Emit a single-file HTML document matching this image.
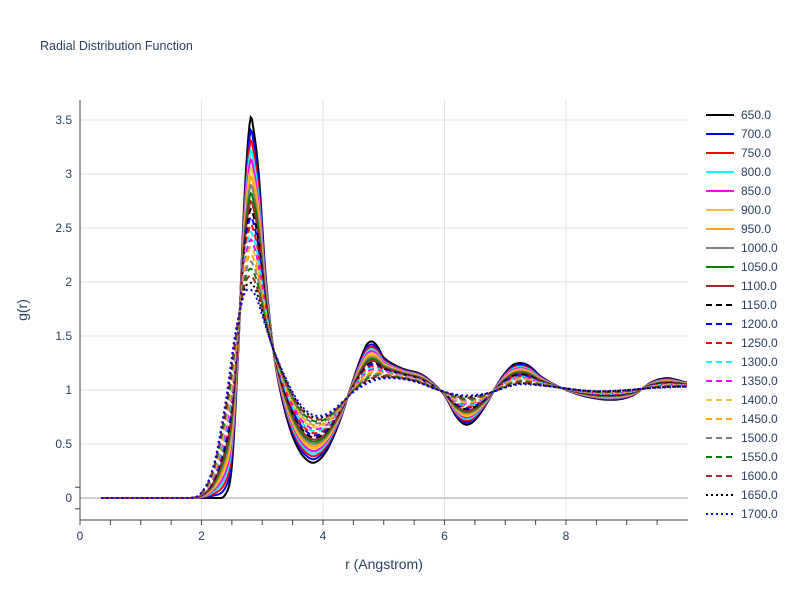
<!DOCTYPE html>
<html><head><meta charset="utf-8"><style>
html,body{margin:0;padding:0;background:#fff;}
svg text{font-family:"Liberation Sans",sans-serif;fill:#2a3f5f;}
</style></head><body>
<svg id="s" width="800" height="600" xmlns="http://www.w3.org/2000/svg">
<rect width="800" height="600" fill="#fff"/>
<g id="grid"></g>
<g id="curves"></g>
<g id="axes"></g>
<g id="legend"></g>
<text x="40" y="50" font-size="12.5">Radial Distribution Function</text>
<text x="384" y="569" font-size="14" text-anchor="middle">r (Angstrom)</text>
<text transform="translate(27,310) rotate(-90)" font-size="14" text-anchor="middle">g(r)</text>
</svg>
<script>
var NS="http://www.w3.org/2000/svg";
function X(r){return 80+r*60.75;}
function Y(g){return 498-g*108;}
function el(p,tag,a){var e=document.createElementNS(NS,tag);for(var k in a)e.setAttribute(k,a[k]);p.appendChild(e);return e;}
var grid=document.getElementById('grid'),axes=document.getElementById('axes'),cv=document.getElementById('curves'),lg=document.getElementById('legend');
[2,4,6,8].forEach(function(v){el(grid,'line',{x1:X(v),x2:X(v),y1:100,y2:520,stroke:'#e2e2e2','stroke-width':1});});
[0.5,1,1.5,2,2.5,3,3.5].forEach(function(v){el(grid,'line',{x1:80,x2:688,y1:Y(v),y2:Y(v),stroke:'#e2e2e2','stroke-width':1});});
el(grid,'line',{x1:80,x2:688,y1:Y(0),y2:Y(0),stroke:'#d0d0d0','stroke-width':2});
el(axes,'line',{x1:80,x2:80,y1:100,y2:520,stroke:'#444','stroke-width':1});
el(axes,'line',{x1:80,x2:688,y1:520,y2:520,stroke:'#444','stroke-width':1});
for(var i=0;i<=19;i++){var x=X(i*0.5);el(axes,'line',{x1:x,x2:x,y1:520,y2:525,stroke:'#444'});}
[-0.1,0.1].forEach(function(v){el(axes,'line',{x1:75,x2:80,y1:Y(v),y2:Y(v),stroke:'#444'});});
[0,0.5,1,1.5,2,2.5,3,3.5].forEach(function(v){var t=el(axes,'text',{x:72,y:Y(v)+4,'font-size':12,'text-anchor':'end'});t.textContent=(v==0?'0':String(v));});
[0,2,4,6,8].forEach(function(v){var t=el(axes,'text',{x:X(v),y:540,'font-size':12,'text-anchor':'middle'});t.textContent=String(v);});
var cold=[[0,0],[2.2,0],[2.4,0.04],[2.5,0.3],[2.6,1.3],[2.7,2.7],[2.8,3.5],[2.87,3.36],[2.95,2.95],[3.05,2.1],[3.2,1.3],[3.4,0.75],[3.6,0.45],[3.8,0.33],[3.95,0.36],[4.1,0.48],[4.3,0.75],[4.5,1.1],[4.7,1.4],[4.8,1.45],[4.9,1.4],[5.0,1.3],[5.3,1.2],[5.6,1.15],[5.8,1.07],[6.0,0.95],[6.2,0.75],[6.35,0.68],[6.5,0.72],[6.7,0.88],[6.9,1.08],[7.1,1.22],[7.25,1.25],[7.4,1.22],[7.6,1.12],[8.0,1.0],[8.4,0.93],[8.8,0.91],[9.1,0.95],[9.4,1.07],[9.65,1.11],[9.85,1.09],[10,1.07]];
var hot=[[0,0],[1.8,0],[2.0,0.05],[2.2,0.3],[2.4,0.9],[2.55,1.5],[2.7,1.88],[2.8,1.93],[2.9,1.86],[3.05,1.6],[3.2,1.35],[3.5,0.98],[3.7,0.82],[3.9,0.76],[4.1,0.79],[4.3,0.88],[4.5,0.98],[4.8,1.08],[5.1,1.11],[5.5,1.08],[5.9,1.0],[6.3,0.95],[6.7,0.97],[7.2,1.05],[7.6,1.04],[8.5,0.99],[9.5,1.02],[10,1.03]];
function interp(p,r){
 var n=p.length;
 for(var i=1;i<n;i++){if(r<=p[i][0]){
  var a=p[i-1],b=p[i],h=b[0]-a[0],u=(r-a[0])/h;
  function slope(j){if(j<=0||j>=n-1)return 0;return (p[j+1][1]-p[j-1][1])/(p[j+1][0]-p[j-1][0]);}
  var m0=slope(i-1)*h,m1=slope(i)*h;
  if(a[1]==0&&b[1]==0)return 0;
  var u2=u*u,u3=u2*u;
  return (2*u3-3*u2+1)*a[1]+(u3-2*u2+u)*m0+(-2*u3+3*u2)*b[1]+(u3-u2)*m1;
 }}return p[n-1][1];}
var cols=['#000000','#0000ff','#ff0000','#00ffff','#ff00ff','#f0c33c','#ffa500','#808080','#008000','#a52a2a'];
var N=22;
for(var k=0;k<N;k++){
 var t=k/(N-1);var tt=Math.pow(t,0.85);
 var d='';
 for(var r=0.35;r<=10.001;r+=0.02){
  var g=interp(cold,r)*(1-tt)+interp(hot,r)*tt;
  if(g<0)g=0;
  d+=(d?'L':'M')+X(r).toFixed(1)+','+Y(g).toFixed(1);
 }
 var col=k<20?cols[k%10]:(k==20?'#000000':'#0000ff');
 var dash=k<10?'':(k<20?'6,4':'2,3');
 var a={d:d,fill:'none',stroke:col,'stroke-width':2};if(dash)a['stroke-dasharray']=dash;
 el(cv,'path',a);
 var ly=115+k*19;
 var la={x1:706,x2:734,y1:ly,y2:ly,stroke:col,'stroke-width':2};if(dash)la['stroke-dasharray']=dash;
 el(lg,'line',la);
 var tx=el(lg,'text',{x:741,y:ly+4,'font-size':12});tx.textContent=(650+50*k).toFixed(1);
}
</script>
</body></html>
